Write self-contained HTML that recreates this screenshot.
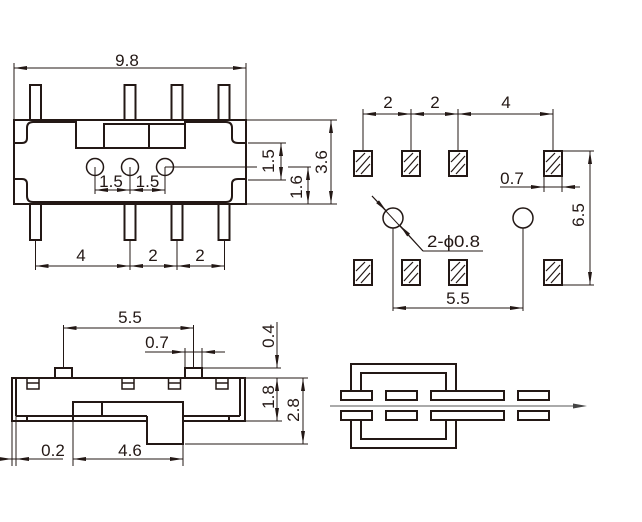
<!DOCTYPE html>
<html><head><meta charset="utf-8"><style>
html,body{margin:0;padding:0;background:#fff;}
svg{display:block}
text{font-family:"Liberation Sans","DejaVu Sans",sans-serif;font-size:17px;fill:#231815}
</style></head><body>
<svg width="642" height="522" viewBox="0 0 642 522" xmlns="http://www.w3.org/2000/svg">
<defs>
<marker id="a" viewBox="0 0 13 4" refX="13" refY="2" markerWidth="13" markerHeight="4" markerUnits="userSpaceOnUse" orient="auto-start-reverse"><path d="M0,0 L13,2 L0,4 z" fill="#231815"/></marker>
<g id="pad">
<rect x="0" y="0" width="18" height="25" fill="none" stroke="#231815" stroke-width="2"/>
<line x1="2" y1="11" x2="11" y2="2" stroke="#231815" stroke-width="1.2"/>
<line x1="2" y1="21" x2="16" y2="5" stroke="#231815" stroke-width="1.2"/>
<line x1="7" y1="23" x2="16" y2="13" stroke="#231815" stroke-width="1.2"/>
</g>
</defs>

<!-- ===== TOP-LEFT VIEW ===== -->
<g fill="none" stroke="#231815" stroke-width="2">
<rect x="14" y="120" width="232" height="84"/>
<rect x="30" y="85" width="11" height="35"/>
<rect x="124.5" y="85" width="11" height="35"/>
<rect x="171.5" y="85" width="11" height="35"/>
<rect x="218.5" y="85" width="11" height="35"/>
<rect x="30" y="204" width="11" height="36"/>
<rect x="124.5" y="204" width="11" height="36"/>
<rect x="171.5" y="204" width="11" height="36"/>
<rect x="218.5" y="204" width="11" height="36"/>
<path d="M14,143 H22 Q27,143 27,138 V128 Q27,122 33,122 H76 V148 H185 V122 H226 Q232,122 232,128 V138 Q232,143 238,143 H246"/>
<rect x="104" y="124" width="81" height="24"/>
<line x1="149" y1="124" x2="149" y2="148"/>
<path d="M14,179 H22 Q27,179 27,184 V196 Q27,202 33,202 H226 Q232,202 232,196 V184 Q232,179 238,179 H246"/>
</g>
<g fill="none" stroke="#231815" stroke-width="1.5">
<circle cx="95" cy="167" r="8.5"/>
<circle cx="130" cy="167" r="8.5"/>
<circle cx="165" cy="167" r="8.5"/>
</g>
<g fill="none" stroke="#231815" stroke-width="1">
<line x1="14" y1="63" x2="14" y2="120"/>
<line x1="246" y1="63" x2="246" y2="120"/>
<line x1="14" y1="68" x2="246" y2="68" marker-start="url(#a)" marker-end="url(#a)"/>
<line x1="95" y1="167" x2="95" y2="194"/>
<line x1="130" y1="167" x2="130" y2="194"/>
<line x1="165" y1="167" x2="165" y2="194"/>
<line x1="95" y1="190" x2="130" y2="190" marker-start="url(#a)" marker-end="url(#a)"/>
<line x1="130" y1="190" x2="165" y2="190" marker-start="url(#a)" marker-end="url(#a)"/>
<line x1="165" y1="167" x2="257" y2="167"/>
<line x1="288" y1="167" x2="311" y2="167"/>
<line x1="246" y1="120" x2="337" y2="120"/>
<line x1="248" y1="143" x2="286" y2="143"/>
<line x1="248" y1="180" x2="286" y2="180"/>
<line x1="246" y1="204" x2="337" y2="204"/>
<line x1="281" y1="143" x2="281" y2="180" marker-start="url(#a)" marker-end="url(#a)"/>
<line x1="308" y1="167" x2="308" y2="204" marker-start="url(#a)" marker-end="url(#a)"/>
<line x1="331" y1="120" x2="331" y2="204" marker-start="url(#a)" marker-end="url(#a)"/>
<line x1="35.5" y1="240" x2="35.5" y2="270"/>
<line x1="130" y1="240" x2="130" y2="270"/>
<line x1="177" y1="240" x2="177" y2="270"/>
<line x1="224.5" y1="240" x2="224.5" y2="270"/>
<line x1="35.5" y1="266" x2="130" y2="266" marker-start="url(#a)" marker-end="url(#a)"/>
<line x1="130" y1="266" x2="177" y2="266" marker-start="url(#a)" marker-end="url(#a)"/>
<line x1="177" y1="266" x2="224.5" y2="266" marker-start="url(#a)" marker-end="url(#a)"/>
</g>
<text x="127" y="66" text-anchor="middle">9.8</text>
<text x="111" y="187" text-anchor="middle">1.5</text>
<text x="147.5" y="187" text-anchor="middle">1.5</text>
<text x="274" y="161" text-anchor="middle" transform="rotate(-90 274 161)">1.5</text>
<text x="302" y="187" text-anchor="middle" transform="rotate(-90 302 187)">1.6</text>
<text x="327" y="162" text-anchor="middle" transform="rotate(-90 327 162)">3.6</text>
<text x="81" y="261" text-anchor="middle">4</text>
<text x="153" y="261" text-anchor="middle">2</text>
<text x="200" y="261" text-anchor="middle">2</text>

<!-- ===== TOP-RIGHT VIEW (PCB) ===== -->
<use href="#pad" x="354" y="151"/>
<use href="#pad" x="402" y="151"/>
<use href="#pad" x="449" y="151"/>
<use href="#pad" x="544" y="151"/>
<use href="#pad" x="354" y="260"/>
<use href="#pad" x="402" y="260"/>
<use href="#pad" x="449" y="260"/>
<use href="#pad" x="544" y="260"/>
<g fill="none" stroke="#231815" stroke-width="1.5">
<circle cx="393" cy="218" r="10"/>
<circle cx="523" cy="218" r="10"/>
</g>
<g fill="none" stroke="#231815" stroke-width="1">
<line x1="363" y1="151" x2="363" y2="109"/>
<line x1="411" y1="151" x2="411" y2="109"/>
<line x1="458" y1="151" x2="458" y2="109"/>
<line x1="553" y1="151" x2="553" y2="109"/>
<line x1="363" y1="114" x2="411" y2="114" marker-start="url(#a)" marker-end="url(#a)"/>
<line x1="411" y1="114" x2="458" y2="114" marker-start="url(#a)" marker-end="url(#a)"/>
<line x1="458" y1="114" x2="553" y2="114" marker-start="url(#a)" marker-end="url(#a)"/>
<line x1="544" y1="176" x2="544" y2="192"/>
<line x1="562" y1="176" x2="562" y2="192"/>
<line x1="500" y1="187" x2="580" y2="187"/>
<line x1="520" y1="187" x2="544" y2="187" marker-end="url(#a)"/>
<line x1="580" y1="187" x2="562" y2="187" marker-end="url(#a)"/>
<line x1="562" y1="151" x2="594" y2="151"/>
<line x1="562" y1="285" x2="594" y2="285"/>
<line x1="590" y1="151" x2="590" y2="285" marker-start="url(#a)" marker-end="url(#a)"/>
<line x1="372" y1="196" x2="423" y2="251"/>
<line x1="423" y1="251" x2="483" y2="251"/>
<line x1="372" y1="196" x2="386.5" y2="211" marker-end="url(#a)"/>
<line x1="423" y1="251" x2="400" y2="225.5" marker-end="url(#a)"/>
<line x1="393" y1="228" x2="393" y2="311"/>
<line x1="523" y1="228" x2="523" y2="311"/>
<line x1="393" y1="308" x2="523" y2="308" marker-start="url(#a)" marker-end="url(#a)"/>
</g>
<text x="388" y="108" text-anchor="middle">2</text>
<text x="435" y="108" text-anchor="middle">2</text>
<text x="506" y="108" text-anchor="middle">4</text>
<text x="512" y="184" text-anchor="middle">0.7</text>
<text x="584" y="215" text-anchor="middle" transform="rotate(-90 584 215)">6.5</text>
<text x="427" y="247" textLength="53" lengthAdjust="spacingAndGlyphs">2-ϕ0.8</text>
<text x="458" y="304" text-anchor="middle">5.5</text>

<!-- ===== BOTTOM-LEFT VIEW (side) ===== -->
<g fill="none" stroke="#231815" stroke-width="2">
<line x1="12" y1="378" x2="245" y2="378"/>
<line x1="12" y1="377" x2="12" y2="422"/>
<line x1="245" y1="377" x2="245" y2="422"/>
<line x1="12" y1="421" x2="147" y2="421"/>
<line x1="183" y1="421" x2="245" y2="421"/>
<line x1="16" y1="378" x2="16" y2="416"/>
<line x1="240" y1="378" x2="240" y2="416"/>
<line x1="16" y1="416" x2="147" y2="416"/>
<line x1="183" y1="416" x2="240" y2="416"/>
<path d="M73,421 V402 H183 V444 H147 V416"/>
<line x1="102" y1="402" x2="102" y2="416"/>
<line x1="27" y1="416" x2="27" y2="421"/>
<line x1="229" y1="416" x2="229" y2="421"/>
<rect x="55" y="368" width="17" height="10"/>
<rect x="185" y="368" width="17" height="10"/>
</g>
<g fill="none" stroke="#231815" stroke-width="1.5">
<rect x="27" y="378" width="12" height="11"/><line x1="27" y1="383" x2="39" y2="383"/>
<rect x="122" y="378" width="12" height="11"/><line x1="122" y1="383" x2="134" y2="383"/>
<rect x="168.5" y="378" width="12" height="11"/><line x1="168.5" y1="383" x2="180.5" y2="383"/>
<rect x="216" y="378" width="12" height="11"/><line x1="216" y1="383" x2="228" y2="383"/>
</g>
<g fill="none" stroke="#231815" stroke-width="1">
<line x1="63.5" y1="368" x2="63.5" y2="325"/>
<line x1="193.5" y1="368" x2="193.5" y2="325"/>
<line x1="63.5" y1="328" x2="193.5" y2="328" marker-start="url(#a)" marker-end="url(#a)"/>
<line x1="185" y1="368" x2="185" y2="348"/>
<line x1="202" y1="368" x2="202" y2="348"/>
<line x1="145" y1="352" x2="225" y2="352"/>
<line x1="165" y1="352" x2="185" y2="352" marker-end="url(#a)"/>
<line x1="225" y1="352" x2="202" y2="352" marker-end="url(#a)"/>
<line x1="202" y1="368" x2="281" y2="368"/>
<line x1="277" y1="322" x2="277" y2="368" marker-end="url(#a)"/>
<line x1="245" y1="378" x2="308" y2="378"/>
<line x1="277" y1="378" x2="277" y2="421" marker-start="url(#a)" marker-end="url(#a)"/>
<line x1="245" y1="421" x2="282" y2="421"/>
<line x1="303" y1="378" x2="303" y2="444" marker-start="url(#a)" marker-end="url(#a)"/>
<line x1="185" y1="444" x2="308" y2="444"/>
<line x1="12" y1="421" x2="12" y2="466"/>
<line x1="16" y1="416" x2="16" y2="466"/>
<line x1="73" y1="421" x2="73" y2="466"/>
<line x1="183" y1="444" x2="183" y2="466"/>
<line x1="0" y1="459" x2="63" y2="459"/>
<line x1="0" y1="459" x2="12" y2="459" marker-end="url(#a)"/>
<line x1="38" y1="459" x2="16" y2="459" marker-end="url(#a)"/>
<line x1="73" y1="459" x2="183" y2="459" marker-start="url(#a)" marker-end="url(#a)"/>
</g>
<text x="130" y="323" text-anchor="middle">5.5</text>
<text x="157" y="348" text-anchor="middle">0.7</text>
<text x="274" y="336" text-anchor="middle" transform="rotate(-90 274 336)">0.4</text>
<text x="274" y="397" text-anchor="middle" transform="rotate(-90 274 397)">1.8</text>
<text x="299" y="410" text-anchor="middle" transform="rotate(-90 299 410)">2.8</text>
<text x="53" y="456" text-anchor="middle">0.2</text>
<text x="130" y="456" text-anchor="middle">4.6</text>

<!-- ===== BOTTOM-RIGHT VIEW (schematic) ===== -->
<g fill="none" stroke="#231815" stroke-width="2">
<rect x="341" y="391" width="31" height="9"/>
<rect x="386" y="391" width="31" height="9"/>
<rect x="431" y="391" width="73" height="9"/>
<rect x="518" y="391" width="31" height="9"/>
<rect x="341" y="411" width="31" height="9"/>
<rect x="386" y="411" width="31" height="9"/>
<rect x="431" y="411" width="73" height="9"/>
<rect x="518" y="411" width="31" height="9"/>
<path d="M351,391 V364 H456 V391"/>
<path d="M361,391 V373 H446 V391"/>
<path d="M351,420 V448 H456 V420"/>
<path d="M361,420 V439 H446 V420"/>
</g>
<line x1="330" y1="406" x2="575" y2="406" stroke="#777" stroke-width="1.2"/>
<polygon points="587,406 573,403.5 573,408.5" fill="#444"/>
</svg>
</body></html>
